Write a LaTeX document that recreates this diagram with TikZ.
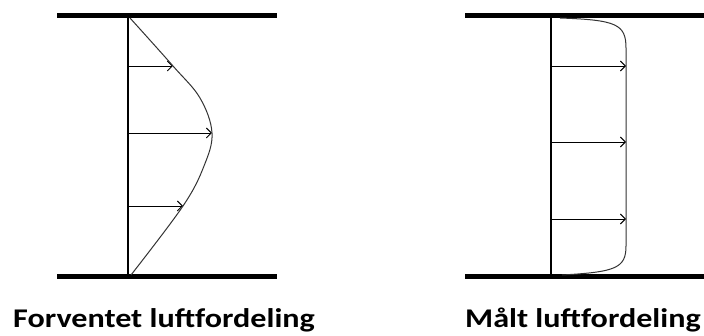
\documentclass[tikz,border=0pt]{standalone}
\usepackage{fontspec}
\setmainfont{Carlito}
\newfontfamily\capfont[FakeStretch=1.19]{Carlito}
\usetikzlibrary{arrows.meta}

\begin{document}
\begin{tikzpicture}[
  x=1pt, y=-1pt,
  wall/.style={line width=5pt},
  axis/.style={line width=1.4pt},
  flow/.style={line width=0.9pt, -{Straight Barb[length=5pt, width=10pt]}},
  profile/.style={line width=1pt, black!80},
  caption/.style={font=\capfont\fontsize{27}{30}\selectfont\bfseries, anchor=base west, inner sep=0pt}
]
\useasboundingbox (0,0) rectangle (704,336);

% forventet
\draw[wall] (57,16) -- (277,16);
\draw[wall] (57,277) -- (277,277);
\coordinate (l0) at (128,16);
\coordinate (l1) at (128,277);
\draw[axis] (l0) -- (l1);
\foreach \y/\u in {66/173, 133/212, 206/183}
  \draw[flow] (128,\y) -- (\u,\y);
\draw[profile] plot[smooth, tension=0.6] coordinates
  {(130,18) (173,66) (200,98) (212,133) (204,166) (183,206) (131,275)};
\node[caption] (forv) at (13,328) {Forventet luftfordeling};

% maalt
\draw[wall] (465,16) -- (704,16);
\draw[wall] (465,277) -- (704,277);
\coordinate (r0) at (551,16);
\coordinate (r1) at (551,277);
\draw[axis] (r0) -- (r1);
\foreach \y in {66, 142, 219}
  \draw[flow] (551,\y) -- (626,\y);
\draw[profile] (560,18) .. controls (616,20) and (626,24) .. (626,48)
  -- (626,246) .. controls (626,268) and (616,272) .. (562,275);
\node[caption] (maalt) at (465,328) {Målt luftfordeling};
\end{tikzpicture}
\end{document}
